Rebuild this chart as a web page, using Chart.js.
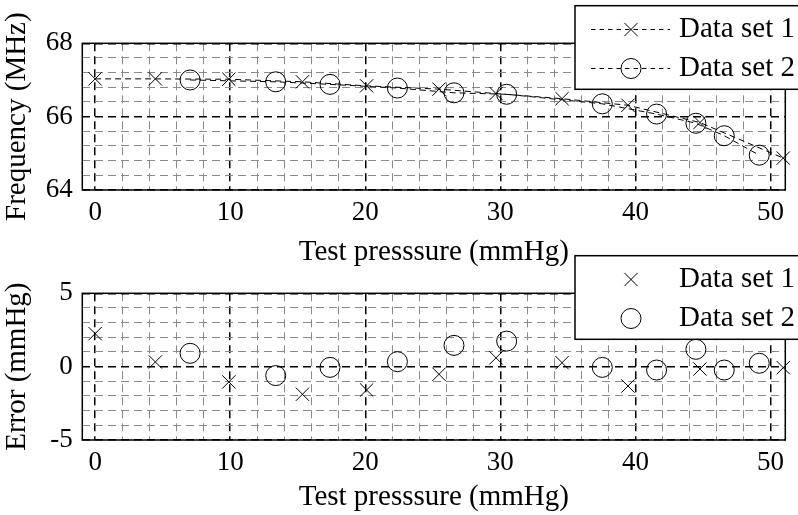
<!DOCTYPE html>
<html><head><meta charset="utf-8">
<script src="https://cdn.jsdelivr.net/npm/chart.js@4/dist/chart.umd.min.js"></script>
<style>
html,body{margin:0;padding:0;background:#fff;}
#wrap{position:relative;width:798px;height:515px;overflow:hidden;}
canvas{position:absolute;left:0;top:0;}
</style></head><body>
<div id="wrap"><canvas id="c1" width="798" height="515"></canvas><canvas id="c2" width="798" height="515"></canvas></div>
<script>
// ---- data ----
const pressure1 = [0, 4.46, 9.9, 15.35, 20.1, 25.46, 29.68, 34.57, 39.45, 44.78, 50.95];
const pressure2 = [7.03, 13.37, 17.39, 22.38, 26.57, 30.47, 37.55, 41.57, 44.48, 46.58, 49.17];
const freq1 = [67.03, 67.03, 67.02, 66.95, 66.84, 66.75, 66.63, 66.49, 66.31, 65.84, 64.87];
const freq2 = [67.0, 66.95, 66.88, 66.78, 66.65, 66.61, 66.35, 66.07, 65.82, 65.48, 64.95];
const error1 = [2.25, 0.32, -1.04, -1.88, -1.59, -0.52, 0.6, 0.27, -1.32, -0.16, -0.07];
const error2 = [0.91, -0.61, -0.05, 0.34, 1.45, 1.74, -0.05, -0.23, 1.18, -0.23, 0.23];
const seriesLabels = ['Data set 1', 'Data set 2'];
const xTickLabels = [0, 10, 20, 30, 40, 50];
const freqTickLabels = [64, 66, 68];
const errorTickLabels = [-5, 0, 5];
const xTitle = 'Test presssure (mmHg)';
const freqTitle = 'Frequency (MHz)';
const errorTitle = 'Error (mmHg)';

const FONT = 'Liberation Serif';
function isIn(arr, v){ return arr.some(a => Math.abs(a - v) < 1e-6); }
function pts(xs, ys){ return xs.map((x, i) => ({x: x, y: ys[i]})); }

function drawMarker(ctx, style, r, x, y){
  ctx.beginPath();
  if (style === 'circle') {
    ctx.arc(x, y, r, 0, Math.PI * 2);
  } else {
    const d = r * Math.SQRT1_2;
    ctx.moveTo(x - d, y - d); ctx.lineTo(x + d, y + d);
    ctx.moveTo(x + d, y - d); ctx.lineTo(x - d, y + d);
  }
  ctx.stroke();
}

const framePlugin = {
  id: 'frame',
  beforeDatasetsDraw(chart){
    const {ctx, chartArea: a} = chart;
    ctx.save();
    ctx.setLineDash([]);
    ctx.strokeStyle = '#000'; ctx.lineWidth = 1.5;
    ctx.strokeRect(a.left, a.top, a.right - a.left, a.bottom - a.top);
    ctx.restore();
  }
};

const legendBoxPlugin = {
  id: 'legendBox',
  afterDraw(chart, args, opts){
    const ctx = chart.ctx; const top = opts.top;
    ctx.save();
    ctx.setLineDash([]);
    ctx.fillStyle = '#fff'; ctx.fillRect(575, top, 240, 83.6);
    ctx.strokeStyle = '#000'; ctx.lineWidth = 1.5; ctx.strokeRect(575, top, 240, 83.6);
    chart.data.datasets.forEach((ds, i) => {
      const y = top + 23.8 + i * 39;
      ctx.strokeStyle = '#000';
      if (opts.lines) {
        ctx.lineWidth = 1; ctx.setLineDash([4.5, 4]);
        ctx.beginPath(); ctx.moveTo(591, y); ctx.lineTo(670, y); ctx.stroke();
        ctx.setLineDash([]);
      }
      ctx.lineWidth = 1;
      drawMarker(ctx, ds.pointStyle, ds.pointRadius, 631, y);
      ctx.fillStyle = '#000';
      ctx.font = '29px "' + FONT + '"';
      ctx.textBaseline = 'middle'; ctx.textAlign = 'left';
      ctx.fillText(ds.label, 679, y);
    });
    ctx.restore();
  }
};

function xScale(tickPad, titlePad, h){
  return {
    type: 'linear', min: -0.95, max: 51.1,
    afterFit(s){ s.height = h; },
    ticks: { stepSize: 2, autoSkip: false, includeBounds: false, maxRotation: 0, minRotation: 0,
      padding: tickPad, color: '#000', font: {family: FONT, size: 27, lineHeight: 1},
      callback: v => isIn(xTickLabels, v) ? String(v) : '' },
    grid: { drawTicks: false,
      color: c => (c.tick && isIn(xTickLabels, c.tick.value)) ? '#000' : '#8a8a8a',
      lineWidth: c => (c.tick && isIn(xTickLabels, c.tick.value)) ? 1.5 : 1 },
    border: { display: false, dash: [8, 5] },
    title: { display: true, text: xTitle, color: '#000',
      font: {family: FONT, size: 29, lineHeight: 1}, padding: {top: 0, bottom: titlePad} }
  };
}
function yScale(min, max, step, labels, title){
  return {
    type: 'linear', min: min, max: max,
    afterFit(s){ s.width = 82.3; },
    ticks: { stepSize: step, autoSkip: false, includeBounds: false,
      padding: 9.6, color: '#000', font: {family: FONT, size: 27, lineHeight: 1},
      callback: v => isIn(labels, v) ? String(Math.round(v)) : '' },
    grid: { drawTicks: false,
      color: c => (c.tick && isIn(labels, c.tick.value)) ? '#000' : '#8a8a8a',
      lineWidth: c => (c.tick && isIn(labels, c.tick.value)) ? 1.5 : 1 },
    border: { display: false, dash: [8, 5] },
    title: { display: true, text: title, color: '#000',
      font: {family: FONT, size: 29, lineHeight: 1}, padding: {top: 2.8, bottom: 0} }
  };
}
function ds(label, data, style, r, line){
  return { label: label, data: data, showLine: line, borderColor: '#000', borderWidth: 1,
    borderDash: [6, 4], pointStyle: style, pointRadius: r, pointHoverRadius: r,
    pointBorderWidth: 1, pointBorderColor: '#000', pointBackgroundColor: 'rgba(0,0,0,0)',
    clip: false, tension: 0 };
}
const common = { responsive: false, animation: false, devicePixelRatio: 1, events: [] };

new Chart(document.getElementById('c1'), {
  type: 'scatter',
  data: { datasets: [
    ds(seriesLabels[0], pts(pressure1, freq1), 'crossRot', 9.4, true),
    ds(seriesLabels[1], pts(pressure2, freq2), 'circle', 10, true)
  ]},
  options: Object.assign({}, common, {
    layout: { padding: {left: 0, top: 43.3, right: 12.7, bottom: 245} },
    scales: { x: xScale(9.4, 3.3, 80), y: yScale(64, 68, 0.4, freqTickLabels, freqTitle) },
    plugins: { legend: {display: false}, tooltip: {enabled: false}, legendBox: {top: 5.7, lines: true} }
  }),
  plugins: [framePlugin, legendBoxPlugin]
});

new Chart(document.getElementById('c2'), {
  type: 'scatter',
  data: { datasets: [
    ds(seriesLabels[0], pts(pressure1, error1), 'crossRot', 9.4, false),
    ds(seriesLabels[1], pts(pressure2, error2), 'circle', 10, false)
  ]},
  options: Object.assign({}, common, {
    layout: { padding: {left: 0, top: 293.3, right: 12.7, bottom: 0} },
    scales: { x: xScale(9.9, 3.0, 75), y: yScale(-5, 5, 1, errorTickLabels, errorTitle) },
    plugins: { legend: {display: false}, tooltip: {enabled: false}, legendBox: {top: 255.7, lines: false} }
  }),
  plugins: [framePlugin, legendBoxPlugin]
});
</script>
</body></html>
